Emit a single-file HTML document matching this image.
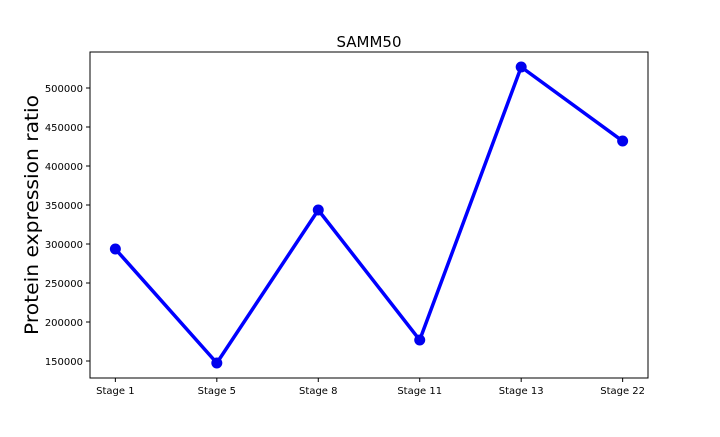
<!DOCTYPE html>
<html><head><meta charset="utf-8"><style>
body{margin:0;background:#fff;}
svg text{font-family:"DejaVu Sans","Liberation Sans",sans-serif;fill:#000;}
</style></head><body>
<svg width="720" height="432" viewBox="0 0 720 432">
<rect x="0" y="0" width="720" height="432" fill="#fff"/>
<text x="369" y="47" font-size="15" text-anchor="middle" textLength="65" lengthAdjust="spacingAndGlyphs">SAMM50</text>
<text transform="translate(38,215) rotate(-90)" font-size="19" text-anchor="middle" textLength="240" lengthAdjust="spacingAndGlyphs">Protein expression ratio</text>
<g id="axes"></g>
<rect x="90" y="52" width="558" height="326" fill="none" stroke="#000" stroke-width="1"/>
</svg>
<script>
const categories=["Stage 1","Stage 5","Stage 8","Stage 11","Stage 13","Stage 22"];
const values=[293600,147400,343600,176900,526900,432000];
const yTicks=[150000,200000,250000,300000,350000,400000,450000,500000];
const L=90,R=648,T=52,B=378;
const yMin=128200,yMax=546150;
const xs=i=>L+(i+0.25)/(categories.length-1+0.5)*(R-L);
const ys=v=>B-(v-yMin)/(yMax-yMin)*(B-T);
const NS="http://www.w3.org/2000/svg";
const g=document.getElementById('axes');
function mk(t,a){const e=document.createElementNS(NS,t);for(const k in a)e.setAttribute(k,a[k]);g.appendChild(e);return e;}
yTicks.forEach(v=>{const y=ys(v);
const tk=mk('line',{x1:L-4,x2:L,y1:y,y2:y,stroke:'#000'});


const t=mk('text',{x:L-7,y:y+4,'font-size':10,'text-anchor':'end'});t.textContent=v;

});
categories.forEach((c,i)=>{const x=xs(i);
const tk=mk('line',{x1:x,x2:x,y1:B,y2:B+4,stroke:'#000'});


const t=mk('text',{x:x,y:B+16,'font-size':10,'text-anchor':'middle'});t.textContent=c;

});
const line=mk('polyline',{points:values.map((v,i)=>xs(i)+','+ys(v)).join(' '),fill:'none',stroke:'#0000ff','stroke-width':3.5,'stroke-linejoin':'round'});


values.forEach((v,i)=>{const c=mk('circle',{cx:xs(i),cy:ys(v),r:5.5,fill:'#0000ee'});

});
</script>
</body></html>
